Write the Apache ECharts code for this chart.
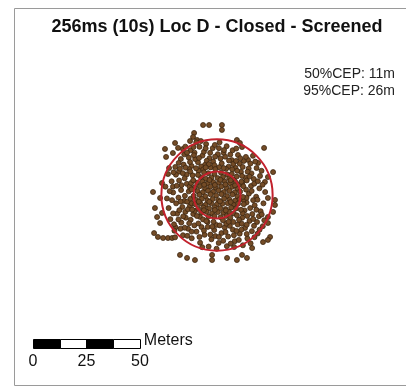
<!DOCTYPE html>
<html><head><meta charset="utf-8">
<script src="https://cdn.jsdelivr.net/npm/echarts@6/dist/echarts.min.js"></script>
<style>html,body{margin:0;padding:0;background:#fff;}#c{width:406px;height:387px;}</style>
</head><body><div id="c"></div>
<script>
// ---- data (meters, relative to the mean position) ----
const titleText = '256ms (10s) Loc D - Closed - Screened';
const cepLevels = ['50%', '95%'];
const cepRadii = [11, 26];
const scaleTicks = [0, 25, 50];
const scaleUnit = 'Meters';

const outerPoints = [
[-6.5,32.7],[-3.7,32.7],[2.3,32.7],[2.3,30.4],[-10.7,29.0],[-11.2,27.1],[-9.3,25.7],[-12.6,25.2],
[-19.6,24.3],[-24.3,21.5],[-18.2,22.0],[-15.9,21.5],[-20.6,19.6],[-23.8,17.8],[9.3,25.7],[10.7,24.3],
[11.7,22.4],[22.0,22.0],[26.2,10.7],[23.8,8.4],[22.4,6.1],[27.1,-2.3],[23.8,-1.4],[27.1,-4.7],
[26.2,-7.9],[23.8,-10.3],[23.8,-13.1],[24.8,-19.6],[21.5,-22.0],[23.8,-21.0],[-29.9,1.4],[-26.6,-1.4],
[-29.0,-6.1],[-28.0,-10.3],[-29.4,-17.8],[-27.6,-19.6],[-25.2,-20.1],[-22.9,-20.1],[-21.0,-20.1],
[-17.3,-28.0],[-14.0,-29.4],[-10.3,-30.4],[-2.3,-30.4],[-2.3,-28.0],[4.7,-29.4],[9.3,-30.4],
[14.0,-29.4],[11.7,-28.0],[16.4,-24.8],[-25.7,5.6],[-22.4,12.6],[-25.7,-8.4],[-26.6,-13.1],
[19.2,15.0],[14.5,16.4]
];
const ringPoints = [
[-8.2,22.5],[-5.1,23.8],[-2.0,21.9],[1.2,24.6],[4.5,22.8],[7.3,20.9],[-10.5,19.8],[-13.2,17.5],
[-6.8,18.4],[-3.5,17.2],[0.4,19.1],[3.8,17.9],[6.9,16.3],[9.8,18.7],[12.5,15.9],[14.8,12.4],
[-15.6,14.2],[-11.9,13.6],[-8.9,15.3],[-5.6,14.1],[-1.8,15.6],[2.2,14.8],[5.4,13.2],[8.6,12.7],
[11.2,10.8],[-17.8,10.9],[-14.2,9.6],[-19.5,13.1],[-16.9,16.8],[-12.4,20.9],[-9.7,24.6],[-14.8,22.6],
[16.8,18.3],[18.5,12.6],[20.1,8.9],[17.2,7.5],[15.9,4.2],[13.4,8.1],[19.8,3.1],[22.5,1.4],
[18.3,-0.8],[14.9,0.6],[21.7,-3.9],[17.6,-4.8],[13.8,-3.5],[20.4,-7.6],[16.5,-8.9],[12.9,-7.2],
[22.1,-11.8],[18.7,-12.6],[15.2,-12.1],[11.8,-10.6],[19.9,-16.2],[16.3,-16.9],[13.1,-15.4],[9.7,-13.8],
[17.5,-19.7],[14.2,-20.3],[10.6,-18.1],[7.4,-16.2],[12.1,-23.5],[8.3,-21.6],[5.2,-19.4],[2.1,-17.8],
[4.6,-23.9],[0.8,-22.4],[-2.6,-20.7],[-1.3,-16.4],[-5.8,-18.6],[-3.9,-24.1],[-7.9,-22.3],[-9.6,-17.1],
[-11.8,-20.2],[-13.5,-15.8],[-15.9,-18.8],[-16.7,-12.9],[-12.3,-11.6],[-19.4,-15.1],[-18.6,-8.7],[-14.8,-7.9],
[-21.8,-11.3],[-22.6,-6.1],[-19.1,-3.9],[-15.3,-2.8],[-12.7,-5.3],[-23.4,-1.6],[-20.5,1.2],[-16.8,2.3],
[-13.2,1.7],[-24.1,3.9],[-21.2,6.4],[-17.7,6.8],[-14.1,5.2],[-22.9,9.8],[-19.6,-19.8],
[-13.0,12.1],[-10.2,16.8],[-7.4,13.3],[-3.0,12.9],[-17.3,12.3],[-20.6,3.9],[-18.0,-1.2],[-16.2,-5.6],
[-11.1,-8.9],[-14.6,-10.6],[-10.6,-14.2],[-7.2,-15.0],[-4.3,-14.9],[-0.3,-14.0],[3.6,-15.2],[6.0,-14.4],
[9.1,-16.8],[11.6,-13.4],[14.1,-9.8],[12.4,-2.3],[13.6,2.5],[11.9,5.9],[16.1,10.1],[10.6,14.6],
[7.6,14.5],[1.6,17.1],[-4.8,16.0],[-8.6,11.3],[-12.8,3.9],[-13.9,-3.1],[-19.2,9.5],[-15.3,19.0],
[19.6,-9.9],[15.7,-22.6],[8.0,-24.3],[-20.1,-13.7],
[12.3,4.1],[13.9,6.8],[11.7,8.9],[9.4,11.3],[7.1,12.0],[4.2,12.2],[1.0,13.0],[15.2,8.6],[17.4,5.3],
[16.2,1.9],[14.3,10.9],[12.0,13.1],[8.9,15.9],[5.6,16.1],[3.1,19.8],[6.2,18.9],[10.9,17.2],[13.5,17.8],
[17.9,15.6],[20.8,11.3],[19.1,6.4],[21.3,4.8],[0.9,21.9],[-0.9,17.9],[9.0,21.7],[3.3,21.0],[15.6,14.7],
[-12.1,5.6],[-11.4,9.2],[-9.8,12.5],[-6.4,12.0],[-3.8,14.4],[-1.2,13.9],[-15.1,7.8],[-16.6,4.6],
[-14.7,12.8],[-12.6,15.4],[-8.4,17.3],[-6.1,20.2],[-3.2,19.7],[-1.0,23.4],[-7.5,25.2],[-11.0,22.4],
[-14.0,19.8],[-17.9,15.0],[-20.3,10.6],[-18.8,4.3],[-22.1,1.8],[-10.8,18.6],[-5.3,21.8],[-12.5,11.0],
[-16.0,10.2],
[-12.4,-1.8],[-11.8,-3.9],[-13.6,-6.7],[-10.3,-7.4],[-8.0,-10.2],[-4.4,-12.6],[-2.2,-14.8],[-15.0,-0.4],
[-17.0,-3.1],[-17.6,-7.1],[-15.8,-10.0],[-13.0,-13.2],[-8.7,-13.3],[-6.1,-16.6],[-3.1,-18.5],[-8.2,-19.6],
[-11.9,-17.1],[-15.1,-15.3],[-18.0,-11.4],[-20.5,-8.6],[-21.0,-2.4],[-19.9,-16.7],[-13.9,-19.1],[-6.9,-24.4],
[-0.8,-19.2],[-17.1,-15.8],
[12.5,-4.3],[13.8,-1.3],[12.0,-8.5],[10.3,-11.6],[7.6,-12.6],[4.3,-13.4],[1.3,-14.2],[15.5,-6.1],
[16.9,-2.4],[18.4,-6.9],[16.9,-11.2],[13.9,-13.9],[11.4,-16.2],[7.9,-18.8],[4.0,-17.3],[0.9,-19.6],
[2.9,-21.4],[6.4,-22.7],[10.2,-21.0],[13.9,-18.2],[17.3,-14.4],[20.9,-9.1],[21.4,-14.6],[19.0,-18.0],
[-0.2,-25.1],[18.9,-2.2]
];
const corePoints = [
[-4.1,10.2],[-1.2,9.8],[1.9,10.4],[4.8,9.6],
[-7.5,8.3],[-5.2,7.6],[-2.6,8.1],[0.3,7.9],[2.8,8.4],[5.7,7.8],[7.9,7.2],
[-9.3,5.8],[-6.8,6.2],[-4.3,5.4],[-1.7,6.0],[0.9,5.7],[3.6,6.3],[6.1,5.5],[8.7,5.9],[10.1,4.7],
[-10.4,3.6],[-8.0,4.1],[-5.6,3.2],[-3.1,3.9],[-0.6,3.4],[2.0,4.0],[4.5,3.3],[7.1,3.8],[9.5,2.9],
[-9.1,1.8],[-6.6,1.3],[-4.2,2.0],[-1.8,1.5],[0.7,2.1],[3.2,1.4],[5.8,1.9],[8.3,1.2],[10.8,1.6],
[-10.9,-0.4],[-8.2,0.1],[-5.5,-0.6],[-3.0,0.3],[-0.4,-0.2],[2.1,0.4],[4.7,-0.5],[7.2,0.2],[9.6,-0.7],
[-9.7,-2.3],[-7.1,-1.8],[-4.5,-2.5],[-2.0,-1.9],[0.6,-2.4],[3.3,-1.7],[5.9,-2.2],[8.5,-2.6],[10.6,-2.0],
[-10.2,-4.3],[-7.8,-4.0],[-5.3,-4.6],[-2.7,-3.9],[-0.1,-4.4],[2.5,-4.1],[5.0,-3.8],[7.6,-4.5],[9.9,-4.0],
[-8.8,-6.4],[-6.3,-5.9],[-3.7,-6.3],[-1.1,-5.8],[1.5,-6.2],[4.0,-6.6],[6.6,-5.9],[8.9,-6.3],
[-7.4,-8.2],[-4.9,-7.8],[-2.3,-8.5],[0.4,-8.0],[3.0,-8.3],[5.6,-7.9],[7.8,-8.6],
[-4.0,-10.1],[-1.2,-9.9],[1.7,-10.4],[4.4,-9.8],[6.2,-10.6],
[-8.9,9.4],[-6.1,10.6],[6.9,9.8],[9.2,8.6],[-11.1,6.9],[11.4,6.2],[-11.6,-6.8],[11.2,-6.9],
[-9.4,-9.8],[9.3,-9.5],[-6.5,-11.4],[2.8,-11.8],[-1.6,-12.5],[-0.8,12.1],[3.1,12.6],[-5.3,12.9],
[-6.0,4.8],[-1.0,4.7],[3.9,4.9],[8.4,4.5],[-8.5,-3.1],[-3.6,-3.2],[1.4,-3.0],[6.4,-3.3],
[-6.1,-7.1],[-1.0,-7.0],[4.1,-7.2],[-3.5,7.0],[1.6,7.1],[6.4,6.9],[-11.9,2.6],[12.1,-0.9],
[-5.0,-12.2],[5.4,-12.5]
];

// ---- layout (not data) ----
const scaleBarStart = -86;   // easting of the scale bar's left end
const scaleBarY = -69.4;     // northing of the scale bar's centre
const scaleBarH = 4.2;       // bar thickness in metres
const scaleLabelY = -78;

const allPoints = outerPoints.concat(ringPoints, corePoints);
const scaleMax = scaleTicks[scaleTicks.length - 1];
const segLen = scaleMax / 4;
const scaleSegs = [0,1,2,3].map(i => [i * segLen, (i + 1) * segLen, i % 2]);

const chart = echarts.init(document.getElementById('c'), null, {renderer: 'canvas'});
chart.setOption({
  animation: false,
  backgroundColor: '#fff',
  grid: {left: 24.4, top: 45.2, width: 363.8, height: 321},
  xAxis: {type: 'value', min: -90, max: 80, show: false},
  yAxis: {type: 'value', min: -80, max: 70, show: false},
  graphic: [
    {type: 'rect', shape: {x: 14.5, y: 8.5, width: 400, height: 377}, style: {fill: 'none', stroke: '#9a9a9a', lineWidth: 1}, z: 0, silent: true},
    {type: 'text', x: 217, y: 27, style: {text: titleText, font: 'bold 18px "Liberation Sans", Arial, sans-serif', fill: '#111', textAlign: 'center', textVerticalAlign: 'middle'}},
    {type: 'text', x: 395, y: 74, style: {text: cepLevels[0] + 'CEP: ' + cepRadii[0] + 'm', font: '14px "Liberation Sans", Arial, sans-serif', fill: '#222', textAlign: 'right', textVerticalAlign: 'middle'}},
    {type: 'text', x: 395, y: 91, style: {text: cepLevels[1] + 'CEP: ' + cepRadii[1] + 'm', font: '14px "Liberation Sans", Arial, sans-serif', fill: '#222', textAlign: 'right', textVerticalAlign: 'middle'}}
  ],
  series: [
    {
      type: 'scatter', data: allPoints, symbol: 'circle', symbolSize: 5, silent: true, z: 2,
      itemStyle: {color: '#744c27', borderColor: '#3c2610', borderWidth: 0.8, opacity: 1}
    },
    {
      type: 'custom', coordinateSystem: 'cartesian2d', silent: true, z: 3,
      data: cepRadii.map(r => [0, 0, r]),
      renderItem: (params, api) => {
        const c = api.coord([api.value(0), api.value(1)]);
        const r = api.size([api.value(2), 0])[0];
        return {type: 'circle', shape: {cx: c[0], cy: c[1], r: r}, style: {fill: 'none', stroke: '#c2212c', lineWidth: 2}};
      }
    },
    {
      type: 'custom', coordinateSystem: 'cartesian2d', silent: true, z: 4,
      data: scaleSegs,
      renderItem: (params, api) => {
        const p1 = api.coord([scaleBarStart + api.value(0), scaleBarY + scaleBarH / 2]);
        const p2 = api.coord([scaleBarStart + api.value(1), scaleBarY - scaleBarH / 2]);
        return {type: 'rect', shape: {x: Math.round(p1[0]) + 0.5, y: Math.round(p1[1]) + 0.5, width: Math.round(p2[0] - p1[0]), height: Math.round(p2[1] - p1[1])},
          style: {fill: api.value(2) === 0 ? '#000' : '#fff', stroke: '#000', lineWidth: 1}};
      }
    },
    {
      type: 'custom', coordinateSystem: 'cartesian2d', silent: true, z: 4,
      data: scaleTicks.map(t => [t]),
      renderItem: (params, api) => {
        const p = api.coord([scaleBarStart + api.value(0), scaleLabelY]);
        return {type: 'text', x: p[0], y: p[1], style: {text: String(api.value(0)), font: '16px "Liberation Sans", Arial, sans-serif', fill: '#111', align: 'center', verticalAlign: 'middle'}};
      }
    },
    {
      type: 'custom', coordinateSystem: 'cartesian2d', silent: true, z: 4,
      data: [[scaleMax]],
      renderItem: (params, api) => {
        const p = api.coord([scaleBarStart + api.value(0) + 1.8, scaleBarY + 1.2]);
        return {type: 'text', x: p[0], y: p[1], style: {text: scaleUnit, font: '16px "Liberation Sans", Arial, sans-serif', fill: '#111', align: 'left', verticalAlign: 'middle'}};
      }
    }
  ]
});
</script>
</body></html>
